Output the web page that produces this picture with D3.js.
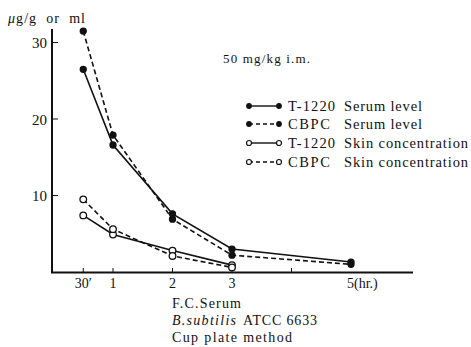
<!DOCTYPE html>
<html>
<head>
<meta charset="utf-8">
<script src="https://cdn.jsdelivr.net/npm/d3@7"></script>
<style>
  body { margin: 0; background: #fff; }
  svg text { font-family: "Liberation Serif", "DejaVu Serif", serif; fill: #111; white-space: pre; }
</style>
</head>
<body>
<svg id="chart" width="471" height="347"></svg>
<script>
// hours after dosing
const hours = [0.5, 1, 2, 3, 5];
const skinHours = [0.5, 1, 2, 3];

const t1220Serum = [26.5, 16.6, 7.6, 3.0, 1.3];
const cbpcSerum = [31.5, 17.9, 6.9, 2.2, 1.0];
const t1220Skin = [7.4, 4.9, 2.8, 0.9];
const cbpcSkin = [9.5, 5.6, 2.1, 0.6];

const yTicks = [10, 20, 30];
const xTicks = [0.5, 1, 2, 3, 4];
const xTickLabels = [[0.5, "30′"], [1, "1"], [2, "2"], [3, "3"], [5, "5(hr.)"]];

const series = [
  { name: "T-1220", what: "Serum level", x: hours, y: t1220Serum, dashed: false, filled: true },
  { name: "CBPC", what: "Serum level", x: hours, y: cbpcSerum, dashed: true, filled: true },
  { name: "T-1220", what: "Skin concentration", x: skinHours, y: t1220Skin, dashed: false, filled: false },
  { name: "CBPC", what: "Skin concentration", x: skinHours, y: cbpcSkin, dashed: true, filled: false }
];

const svg = d3.select("#chart");

const x = d3.scaleLinear().domain([0, 1]).range([53.5, 113]);
const y = d3.scaleLinear().domain([0, 10]).range([272, 195.5]);

// widths, text is set loose
function fit(sel, w) {
  return sel.attr("textLength", w).attr("lengthAdjust", "spacing");
}

// axes
svg.append("line")
  .attr("x1", 52).attr("x2", 52).attr("y1", 29).attr("y2", 273)
  .attr("stroke", "#111").attr("stroke-width", 2);
svg.append("line")
  .attr("x1", 51).attr("x2", 413).attr("y1", 272.5).attr("y2", 272.5)
  .attr("stroke", "#111").attr("stroke-width", 2);

svg.selectAll(".ytick")
  .data(yTicks)
  .join("line")
  .attr("x1", 52).attr("x2", 58)
  .attr("y1", d => y(d)).attr("y2", d => y(d))
  .attr("stroke", "#111").attr("stroke-width", 1);

svg.selectAll(".ylab")
  .data(yTicks)
  .join("text")
  .attr("x", 47).attr("y", d => y(d) + 5.5)
  .attr("text-anchor", "end")
  .attr("font-size", 15)
  .text(d => d);

svg.selectAll(".xtick")
  .data(xTicks)
  .join("line")
  .attr("x1", d => x(d)).attr("x2", d => x(d))
  .attr("y1", 272).attr("y2", 268)
  .attr("stroke", "#111").attr("stroke-width", 1);

svg.selectAll(".xlab")
  .data(xTickLabels)
  .join("text")
  .attr("x", d => x(d[0]))
  .attr("y", 288)
  .attr("text-anchor", d => d[0] === 5 ? "start" : "middle")
  .attr("dx", d => d[0] === 5 ? -4 : 0)
  .attr("font-size", 14)
  .text(d => d[1]);

const yTitle = fit(svg.append("text")
  .attr("x", 8).attr("y", 23)
  .attr("font-size", 14), 77);
yTitle.append("tspan").attr("font-style", "italic").text("μ");
yTitle.append("tspan").text("g/g  or  ml");

fit(svg.append("text")
  .attr("x", 223).attr("y", 63)
  .attr("font-size", 13)
  .text("50 mg/kg i.m."), 87);

// lines + markers
const line = d3.line().x(d => x(d[0])).y(d => y(d[1]));

series.forEach(s => {
  const pts = s.x.map((h, i) => [h, s.y[i]]);
  svg.append("path")
    .attr("d", line(pts))
    .attr("fill", "none")
    .attr("stroke", "#111")
    .attr("stroke-width", 1.6)
    .attr("stroke-dasharray", s.dashed ? "5,3" : null);
  svg.selectAll(null)
    .data(pts)
    .join("circle")
    .attr("cx", d => x(d[0]))
    .attr("cy", d => y(d[1]))
    .attr("r", s.filled ? 3 : 3.3)
    .attr("fill", s.filled ? "#111" : "#fff")
    .attr("stroke", "#111")
    .attr("stroke-width", 1.3);
});

// legend
const legend = svg.append("g");
const rowY = [106, 124, 143, 162];
const whatW = { "Serum level": 78, "Skin concentration": 124 };
series.forEach((s, i) => {
  const g = legend.append("g").attr("transform", `translate(0,${rowY[i]})`);
  g.append("line")
    .attr("x1", 249).attr("x2", 279)
    .attr("stroke", "#111").attr("stroke-width", 1.4)
    .attr("stroke-dasharray", s.dashed ? "4,3" : null);
  [249, 279].forEach(cx => {
    g.append("circle")
      .attr("cx", cx).attr("r", s.filled ? 2.3 : 2.5)
      .attr("fill", s.filled ? "#111" : "#fff")
      .attr("stroke", "#111").attr("stroke-width", 1.2);
  });
  fit(g.append("text").attr("x", 288).attr("y", 5).attr("font-size", 14.5).text(s.name),
    s.name === "CBPC" ? 42 : 47);
  fit(g.append("text").attr("x", 344).attr("y", 5).attr("font-size", 14.5).text(s.what),
    whatW[s.what]);
});

// method notes
const notes = svg.append("g").attr("font-size", 14);
fit(notes.append("text").attr("x", 172).attr("y", 308).text("F.C.Serum"), 69);
fit(notes.append("text").attr("x", 172).attr("y", 325)
  .attr("font-style", "italic").text("B.subtilis"), 64);
fit(notes.append("text").attr("x", 243).attr("y", 325).text("ATCC 6633"), 74);
fit(notes.append("text").attr("x", 172).attr("y", 342).text("Cup plate method"), 120);
</script>
</body>
</html>
